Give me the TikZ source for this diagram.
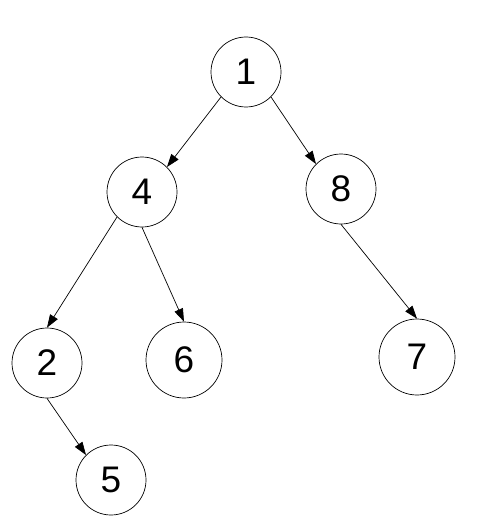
\documentclass[tikz,border=0pt]{standalone}
\usepackage{fontspec}
\setmainfont{Liberation Sans}
\usepackage{tikz}
\usetikzlibrary{shapes,arrows.meta,positioning}

\begin{document}
\begin{tikzpicture}[
    x=1pt, y=-1pt,
    vertex/.style={
      circle,
      draw=black,
      line width=0.7pt,
      minimum size=70pt,
      inner sep=0pt,
      font=\fontsize{37}{40}\selectfont
    },
    bigvertex/.style={vertex, minimum size=76pt},
    edge/.style={-{Triangle[length=13pt,width=9pt]}, line width=0.7pt, black}
  ]
    \useasboundingbox (0,0) rectangle (479,524);

    \node[vertex] (n1) at (246,72) {1};
    \node[vertex] (n4) at (142,192) {4};
    \node[vertex] (n8) at (341,189) {8};
    \node[vertex] (n2) at (47,363) {2};
    \node[bigvertex] (n6) at (184,360) {6};
    \node[bigvertex] (n7) at (417,357) {7};
    \node[vertex] (n5) at (111,480) {5};

    \draw[edge] (n1.south west) -- (n4.north east);
    \draw[edge] (n1.south east) -- (n8.north west);
    \draw[edge] (n4.south west) -- (n2.north);
    \draw[edge] (n4.south) -- (n6.north);
    \draw[edge] (n8.south) -- (n7.north);
    \draw[edge] (n2.south) -- (n5.north west);
  \end{tikzpicture}
\end{document}
